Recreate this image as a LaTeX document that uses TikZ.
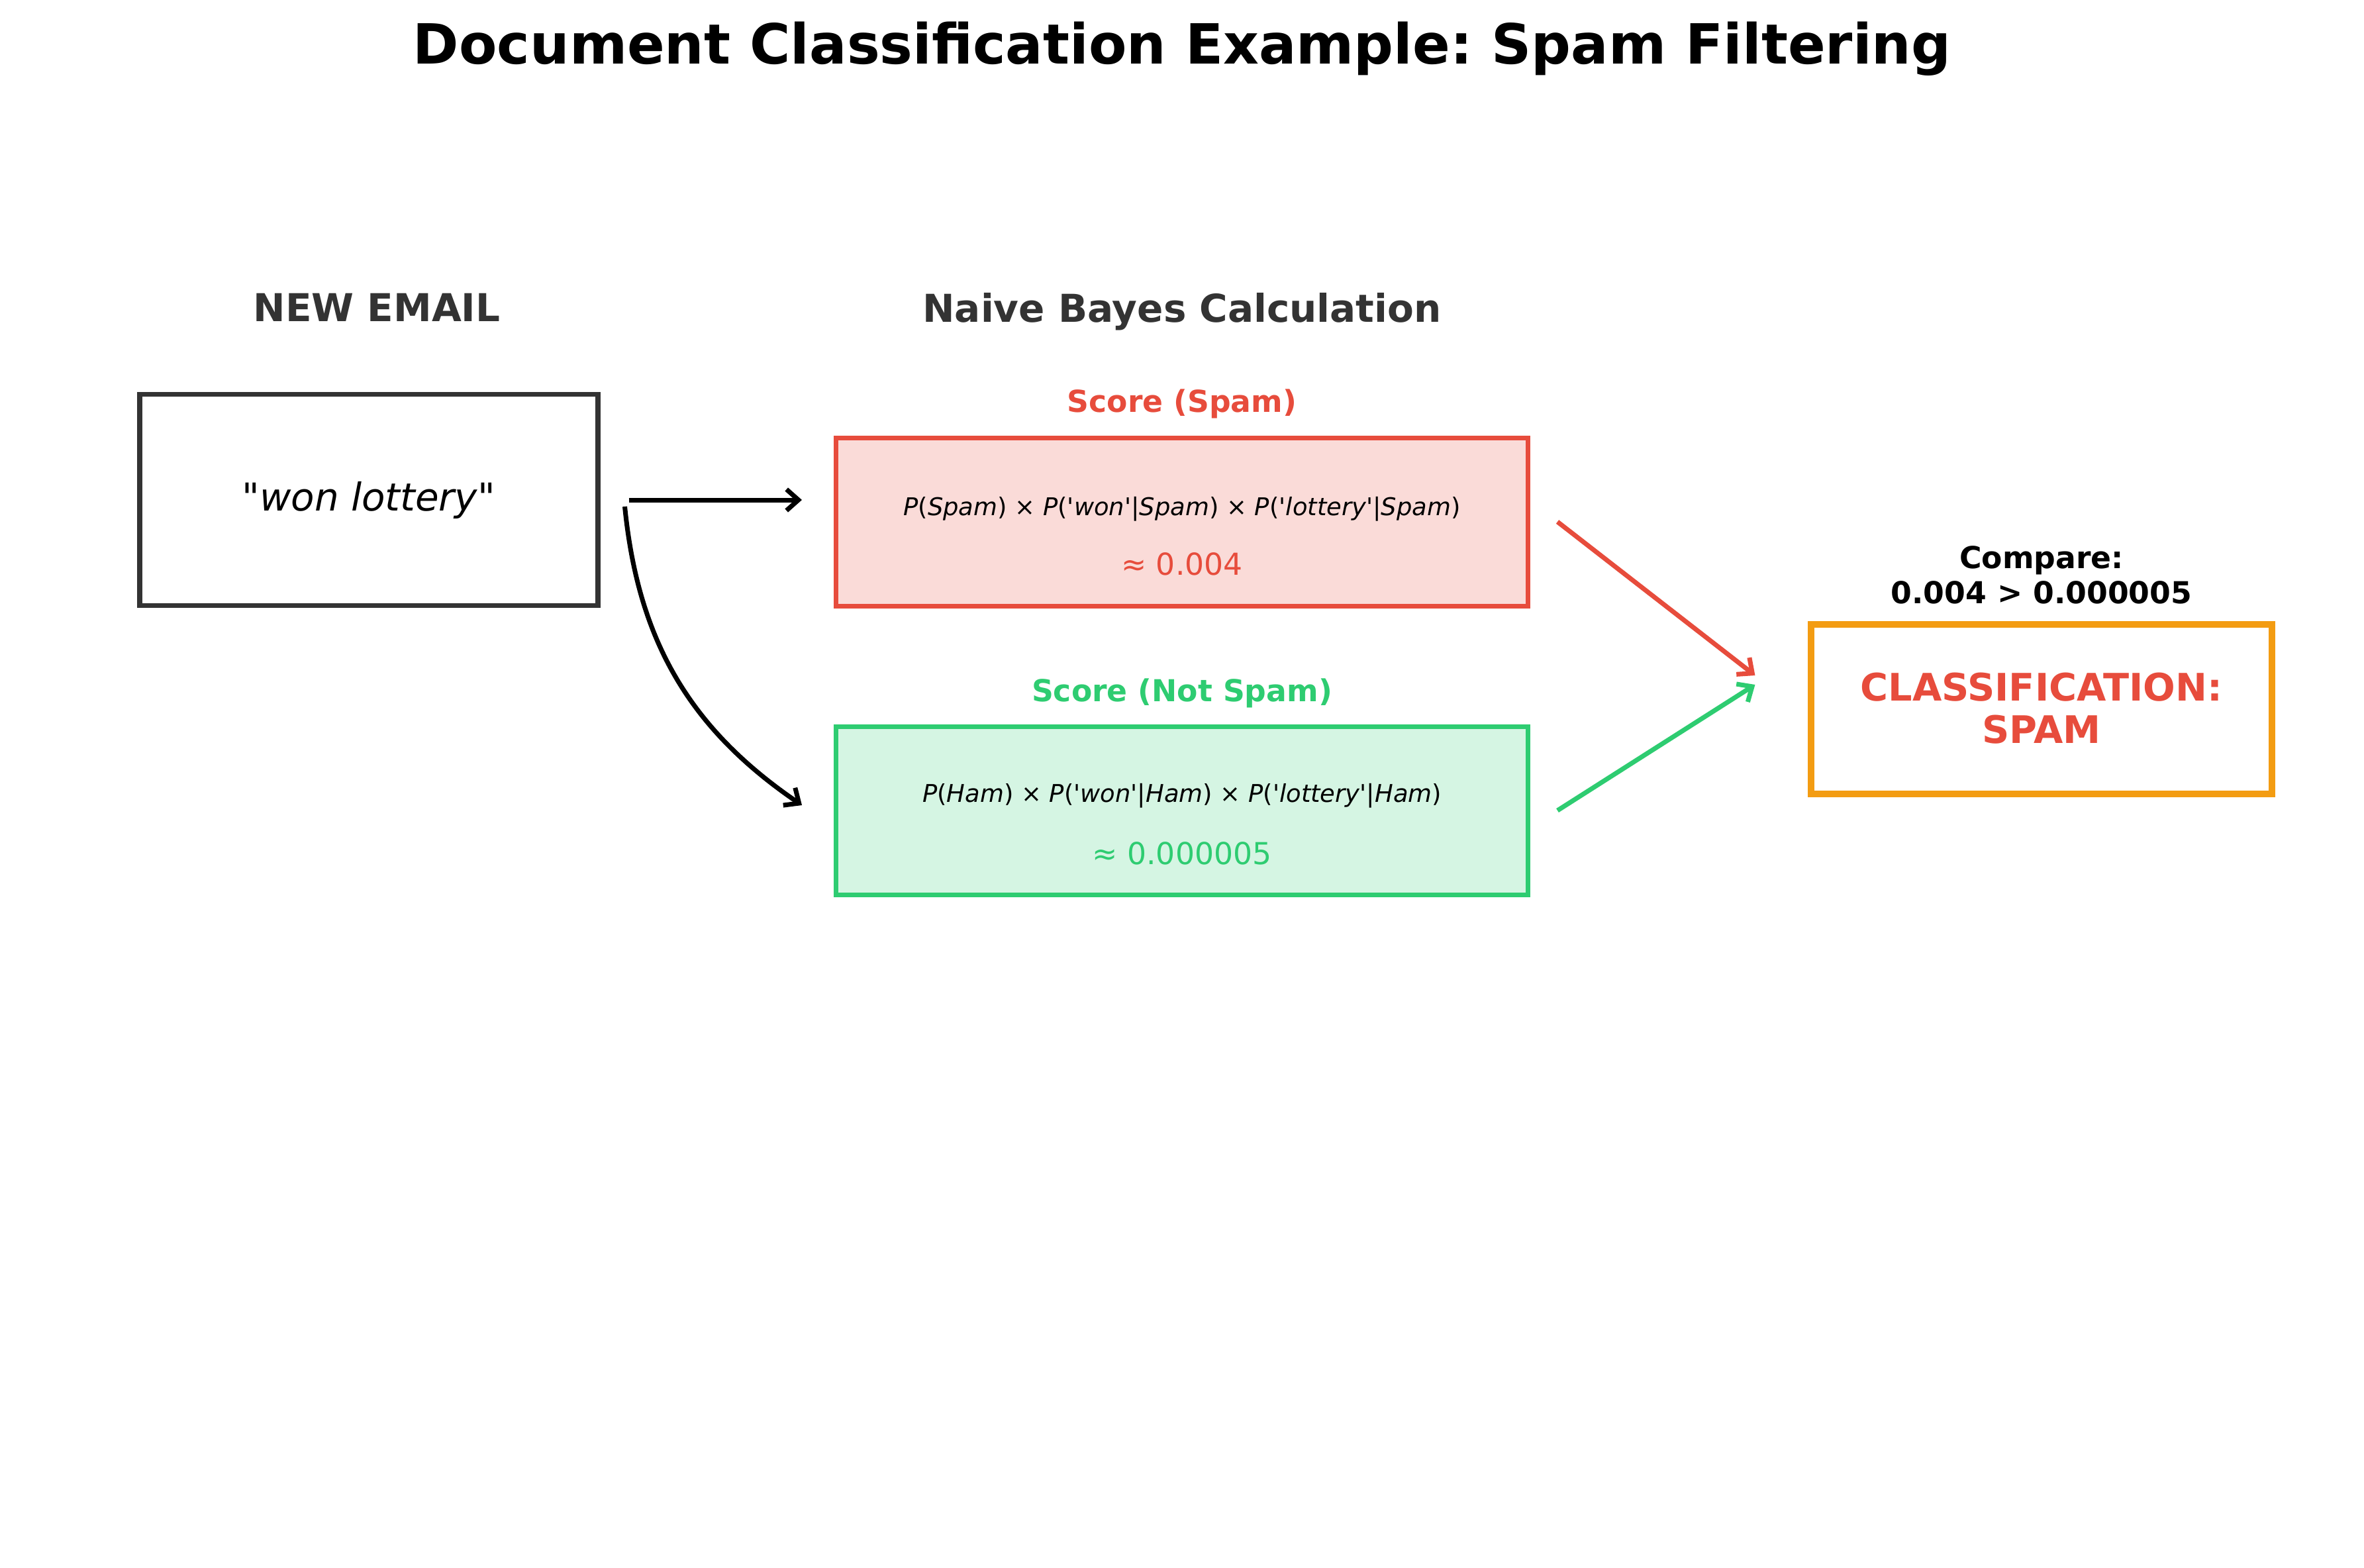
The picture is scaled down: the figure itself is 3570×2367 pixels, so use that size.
\documentclass[tikz,border=0pt]{standalone}
\usepackage{fontspec}
\setmainfont{DejaVu Sans}[Ligatures=TeXOff]
\frenchspacing
\usetikzlibrary{positioning,arrows.meta}
\definecolor{spamred}{HTML}{E74C3C}
\definecolor{hamgreen}{HTML}{2ECC71}
\definecolor{verdict}{HTML}{F39C12}
\definecolor{ink}{HTML}{333333}
\tikzset{
  box/.style={draw, line width=2pt, inner sep=0pt},
  mailbox/.style={box, draw=ink, minimum width=69.2mm, minimum height=31.9mm},
  scorebox/.style={box, minimum width=104.5mm, minimum height=25.4mm},
  head/.style={font=\fontsize{16.5}{20}\selectfont\bfseries, text=ink},
  lbl/.style={font=\fontsize{13}{15}\selectfont\bfseries},
  frm/.style={font=\fontsize{10.5}{13}\selectfont},
  approx/.style={font=\fontsize{13}{15}\selectfont},
  arr/.style={-{Straight Barb[length=1.8mm, width=3.2mm]}, line width=2pt},
}

\begin{document}
\begin{tikzpicture}[x=0.1mm, y=-0.1mm]
  \useasboundingbox (0,0) rectangle (3570,2367);
  \node[font=\fontsize{23.8}{28}\selectfont\bfseries] (title) at (1785,74)
    {Document Classification Example: Spam Filtering};
  % input side
  \node[head] (newmail) at (569,464) {NEW EMAIL};
  \node[mailbox] (email) at (557,755) {};
  \node[font=\fontsize{16.5}{20}\selectfont] (words) at (557,755) {"\textit{won lottery}"};
  % the two scores
  \node[head] (calc) at (1785,471) {Naive Bayes Calculation};
  \node[lbl, text=spamred] (spamlbl) at (1785,610) {Score (Spam)};
  \node[scorebox, draw=spamred, fill=spamred!20] (spam) at (1785,788) {};
  \node[frm] (spamfrm) at (1785,769)
    {\textit{P}(\textit{Spam}) × \textit{P}(\textit{'won'}|\textit{Spam}) × \textit{P}(\textit{'lottery'}|\textit{Spam})};
  \node[approx, text=spamred] (spamval) at (1785,852) {≈ 0.004};
  \node[lbl, text=hamgreen] (hamlbl) at (1785,1047) {Score (Not Spam)};
  \node[scorebox, draw=hamgreen, fill=hamgreen!20] (ham) at (1785,1224) {};
  \node[frm] (hamfrm) at (1785,1202)
    {\textit{P}(\textit{Ham}) × \textit{P}(\textit{'won'}|\textit{Ham}) × \textit{P}(\textit{'lottery'}|\textit{Ham})};
  \node[approx, text=hamgreen] (hamval) at (1785,1289) {≈ 0.000005};
  % result
  \node[lbl, align=center] (cmp) at (3083,868) {Compare:\\0.004 > 0.000005};
  \node[box, draw=verdict, line width=2.6pt, minimum width=69.6mm, minimum height=25.6mm] (cls) at (3083,1071) {};
  \node[font=\fontsize{16.3}{18.2}\selectfont\bfseries, text=spamred, align=center] (clstxt) at (3083,1070)
    {CLASSIFICATION:\\SPAM};
  \draw[arr] ([xshift=4.3mm]email.east) -- ([xshift=-4.8mm]spam.west |- email.east);
  \draw[arr] ([xshift=3.7mm, yshift=-1mm]email.east) to[bend right=25] ([xshift=-4.8mm, yshift=0.8mm]ham.west);
  \draw[arr, spamred] ([xshift=4.1mm]spam.east) -- ([xshift=-8mm, yshift=5.1mm]cls.west);
  \draw[arr, hamgreen] ([xshift=4.1mm]ham.east) -- ([xshift=-8mm, yshift=3.7mm]cls.west);
\end{tikzpicture}
\end{document}
